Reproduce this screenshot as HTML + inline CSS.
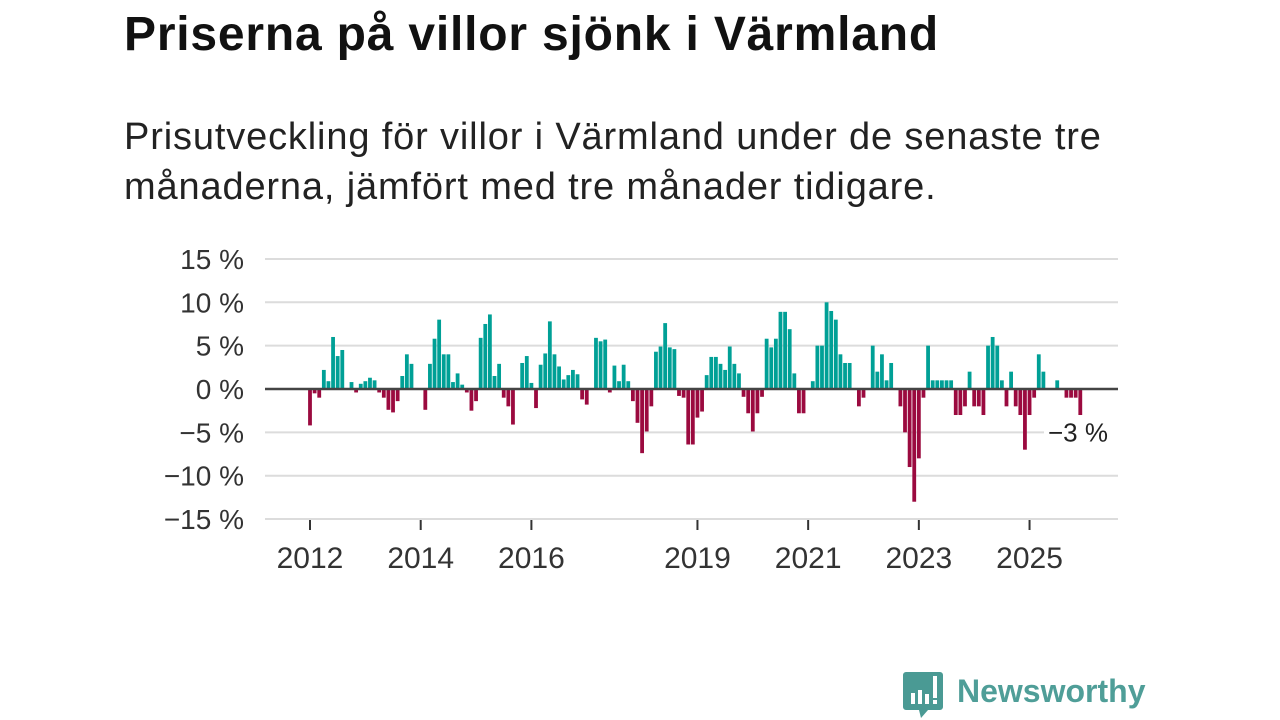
<!DOCTYPE html>
<html><head><meta charset="utf-8">
<style>
html,body{margin:0;padding:0;background:#fff;width:1280px;height:720px;overflow:hidden;font-family:"Liberation Sans","DejaVu Sans",sans-serif;}
#title{position:absolute;left:124px;top:7px;font-size:48px;font-weight:bold;color:#111;margin:0;letter-spacing:0.8px;}
#sub{position:absolute;left:124px;top:112px;font-size:38px;line-height:50px;color:#222;width:1020px;letter-spacing:0.85px;}
svg{position:absolute;left:0;top:0;}
</style></head><body>
<h1 id="title">Priserna på villor sjönk i Värmland</h1>
<div id="sub">Prisutveckling för villor i Värmland under de senaste tre månaderna, jämfört med tre månader tidigare.</div>
<svg id="chart" width="1280" height="720"></svg>
<script>
const startYear = 2012;
const values = [
-4.2,-0.5,-1,2.2,0.9,6,3.8,4.5,0,0.8,-0.4,0.6,
0.9,1.3,1,-0.4,-1,-2.4,-2.7,-1.4,1.5,4,2.9,0,
0,-2.4,2.9,5.8,8,4,4,0.8,1.8,0.5,-0.4,-2.5,
-1.4,5.9,7.5,8.6,1.5,2.9,-1,-2,-4.1,0,3,3.8,
0.7,-2.2,2.8,4.1,7.8,4,2.6,1.1,1.6,2.2,1.7,-1.2,
-1.8,0,5.9,5.5,5.7,-0.4,2.7,0.9,2.8,0.9,-1.4,-3.9,
-7.4,-4.9,-2,4.3,4.9,7.6,4.8,4.6,-0.8,-1,-6.4,-6.4,
-3.3,-2.6,1.6,3.7,3.7,2.9,2.2,4.9,2.9,1.8,-0.9,-2.8,
-4.9,-2.8,-0.9,5.8,4.8,5.8,8.9,8.9,6.9,1.8,-2.8,-2.8,
0,0.9,5,5,10,9,8,4,3,3,0,-2,
-1,0,5,2,4,1,3,0,-2,-5,-9,-13,
-8,-1,5,1,1,1,1,1,-3,-3,-2,2,
-2,-2,-3,5,6,5,1,-2,2,-2,-3,-7,
-3,-1,4,2,0,0,1,0,-1,-1,-1,-3];
const yTicks = [15,10,5,0,-5,-10,-15];
const yTickLabels = ["15 %","10 %","5 %","0 %","\u22125 %","\u221210 %","\u221215 %"];
const xTickYears = [2012,2014,2016,2019,2021,2023,2025];
const lastLabel = "\u22123 %";

const svg = document.getElementById('chart');
const NS = 'http://www.w3.org/2000/svg';
const y0 = 389, pxPer = 8.67;
const yS = v => y0 - v * pxPer;
const monthW = 55.35 / 12;
const xS = k => 310 + k * monthW;
const xYear = yr => 310 + (yr - startYear) * 55.35;
function mk(tag, attrs){const e=document.createElementNS(NS,tag);for(const k in attrs)e.setAttribute(k,attrs[k]);svg.appendChild(e);return e;}

yTicks.forEach((t,i)=>{
  const g = mk('line',{x1:265,x2:1118,y1:yS(t),y2:yS(t),stroke:'#dcdcdc','stroke-width':2});
  
  
  const tx = mk('text',{x:244,y:yS(t)+10,'text-anchor':'end','font-size':28,fill:'#333'});
  tx.textContent = yTickLabels[i];
  
  
});
values.forEach((v,k)=>{
  if(v===0) return;
  const r = mk('rect',{x:xS(k)-1.9,width:3.8,y:Math.min(yS(v),y0),height:Math.abs(yS(v)-y0),fill:v>0?'#00a096':'#9b0a3f'});
  
  
});
const zl = mk('line',{x1:265,x2:1118,y1:y0,y2:y0,stroke:'#444','stroke-width':2.5});


xTickYears.forEach(yr=>{
  const t = mk('line',{x1:xYear(yr),x2:xYear(yr),y1:520,y2:530,stroke:'#333','stroke-width':2});
  
  
  const tx = mk('text',{x:xYear(yr),y:568,'text-anchor':'middle','font-size':30,fill:'#333'});
  tx.textContent = yr;
  
  
});
const bg = mk('rect',{x:1044,y:422,width:76,height:32,fill:'#fff'});


const ll = mk('text',{x:1078,y:yS(-5)+9,'text-anchor':'middle','font-size':26,fill:'#222'});
ll.textContent = lastLabel;


</script>
<svg width="1280" height="720" style="pointer-events:none">
  <path d="M906 672 h34 a3 3 0 0 1 3 3 v32 a3 3 0 0 1 -3 3 h-12 l-7 8 l-2 -8 h-13 a3 3 0 0 1 -3 -3 v-32 a3 3 0 0 1 3 -3z" fill="#4a9a94"/>
  <rect x="911" y="693" width="4" height="11" fill="#fff"/>
  <rect x="918" y="690" width="4" height="14" fill="#fff"/>
  <rect x="925" y="694" width="4" height="10" fill="#fff"/>
  <rect x="933" y="676" width="4" height="22" fill="#fff"/>
  <rect x="933" y="700" width="4" height="4" fill="#fff"/>
  <text x="957" y="702" font-size="32" font-weight="bold" fill="#4f9e98" font-family="Liberation Sans, sans-serif">Newsworthy</text>
</svg>
</body></html>
